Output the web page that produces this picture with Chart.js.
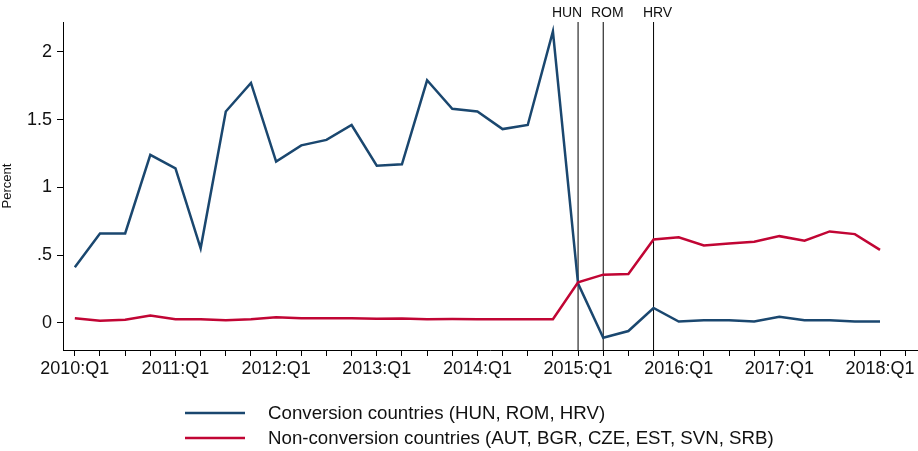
<!DOCTYPE html>
<html>
<head>
<meta charset="utf-8">
<script src="https://cdn.jsdelivr.net/npm/chart.js@4/dist/chart.umd.min.js"></script>
<style>
  html, body { margin: 0; padding: 0; background: #fff; }
  #wrap { width: 918px; height: 451px; position: relative; }
</style>
</head>
<body>
<div id="wrap"><canvas id="chart"></canvas></div>
<script>
// Quarters 2010:Q1 .. 2018:Q1
const quarters = [
  '2010:Q1','2010:Q2','2010:Q3','2010:Q4',
  '2011:Q1','2011:Q2','2011:Q3','2011:Q4',
  '2012:Q1','2012:Q2','2012:Q3','2012:Q4',
  '2013:Q1','2013:Q2','2013:Q3','2013:Q4',
  '2014:Q1','2014:Q2','2014:Q3','2014:Q4',
  '2015:Q1','2015:Q2','2015:Q3','2015:Q4',
  '2016:Q1','2016:Q2','2016:Q3','2016:Q4',
  '2017:Q1','2017:Q2','2017:Q3','2017:Q4',
  '2018:Q1'
];

// Conversion countries (HUN, ROM, HRV)
const conversion = [
  0.41, 0.66, 0.66, 1.24,
  1.14, 0.55, 1.56, 1.77,
  1.19, 1.31, 1.35, 1.46,
  1.16, 1.17, 1.79, 1.58,
  1.56, 1.43, 1.46, 2.15,
  0.29, -0.11, -0.06, 0.11,
  0.01, 0.02, 0.02, 0.01,
  0.045, 0.02, 0.02, 0.01,
  0.01
];

// Non-conversion countries (AUT, BGR, CZE, EST, SVN, SRB)
const nonConversion = [
  0.035, 0.015, 0.024, 0.054,
  0.027, 0.027, 0.020, 0.027,
  0.042, 0.035, 0.035, 0.035,
  0.030, 0.032, 0.027, 0.028,
  0.027, 0.027, 0.027, 0.027,
  0.30, 0.356, 0.361, 0.616,
  0.631, 0.571, 0.586, 0.598,
  0.640, 0.606, 0.675, 0.655,
  0.539
];

const yTicks = [0, 0.5, 1, 1.5, 2];
const yTickLabels = ['0', '.5', '1', '1.5', '2'];

// conversion dates marked with vertical lines
const eventLabels = ['HUN', 'ROM', 'HRV'];
const eventQuarters = ['2015:Q1', '2015:Q2', '2015:Q4'];

const seriesNames = [
  'Conversion countries (HUN, ROM, HRV)',
  'Non-conversion countries (AUT, BGR, CZE, EST, SVN, SRB)'
];
const blue = '#1a476f';
const red = '#c10534';
const font = '"Liberation Sans", Arial, sans-serif';

const toPoints = arr => arr.map((v, i) => ({ x: i, y: v }));

// vertical lines + labels, legend drawn by hand
const eventLines = {
  id: 'eventLines',
  beforeDatasetsDraw(chart) {
    const { ctx, chartArea, scales } = chart;
    ctx.save();
    ctx.strokeStyle = '#000';
    ctx.lineWidth = 1;
    eventQuarters.forEach(q => {
      const x = scales.x.getPixelForValue(quarters.indexOf(q));
      ctx.beginPath();
      ctx.moveTo(x, chartArea.top);
      ctx.lineTo(x, chartArea.bottom);
      ctx.stroke();
    });
    ctx.restore();
  },
  afterDraw(chart) {
    const { ctx, scales } = chart;
    const offsets = [-11, 4, 4];
    ctx.save();
    ctx.fillStyle = '#111';
    ctx.font = '14px ' + font;
    ctx.textAlign = 'center';
    ctx.textBaseline = 'middle';
    eventQuarters.forEach((q, i) => {
      const x = scales.x.getPixelForValue(quarters.indexOf(q));
      ctx.fillText(eventLabels[i], x + offsets[i], 13);
    });

    // legend
    ctx.font = '18.7px ' + font;
    ctx.textAlign = 'left';
    [blue, red].forEach((c, i) => {
      const y = 413 + i * 25;
      ctx.strokeStyle = c;
      ctx.lineWidth = 2.5;
      ctx.beginPath();
      ctx.moveTo(185, y);
      ctx.lineTo(245, y);
      ctx.stroke();
      ctx.fillText(seriesNames[i], 268, y + 1);
    });
    ctx.restore();
  }
};

new Chart(document.getElementById('chart'), {
  type: 'line',
  data: {
    datasets: [
      {
        label: seriesNames[0],
        data: toPoints(conversion),
        borderColor: blue,
        borderWidth: 2.5,
        pointRadius: 0,
        tension: 0,
        order: 1
      },
      {
        label: seriesNames[1],
        data: toPoints(nonConversion),
        borderColor: red,
        borderWidth: 2.5,
        pointRadius: 0,
        tension: 0,
        order: 0
      }
    ]
  },
  options: {
    responsive: true,
    maintainAspectRatio: false,
    animation: false,
    layout: { padding: { top: 22, right: 1, left: 0, bottom: 0 } },
    plugins: {
      legend: { display: false },
      tooltip: { enabled: false }
    },
    scales: {
      x: {
        type: 'linear',
        min: -0.47,
        max: 33.47,
        afterBuildTicks: scale => {
          scale.ticks = quarters.map((q, i) => ({ value: i })).concat([{ value: 33 }]);
        },
        afterFit: scale => { scale.height = 101; },
        border: { display: true, color: '#000', width: 1 },
        grid: { drawOnChartArea: false, tickLength: 6, color: '#000', tickColor: '#000' },
        ticks: {
          autoSkip: false,
          maxRotation: 0,
          padding: 2,
          color: '#111',
          font: { family: font, size: 18 },
          callback: v => (v % 4 === 0 && quarters[v]) ? quarters[v] : ''
        }
      },
      y: {
        min: -0.2,
        max: 2.22,
        afterBuildTicks: scale => {
          scale.ticks = yTicks.map(v => ({ value: v }));
        },
        afterFit: scale => { scale.width = 63; },
        border: { display: true, color: '#000', width: 1 },
        grid: { drawOnChartArea: false, tickLength: 6, color: '#000', tickColor: '#000' },
        title: {
          display: true,
          text: 'Percent',
          color: '#111',
          font: { family: font, size: 13 },
          padding: { top: 0, bottom: 0 }
        },
        ticks: {
          padding: 5,
          color: '#111',
          font: { family: font, size: 18 },
          callback: v => {
            const i = yTicks.indexOf(v);
            return i >= 0 ? yTickLabels[i] : '';
          }
        }
      }
    }
  },
  plugins: [eventLines]
});
</script>
</body>
</html>
